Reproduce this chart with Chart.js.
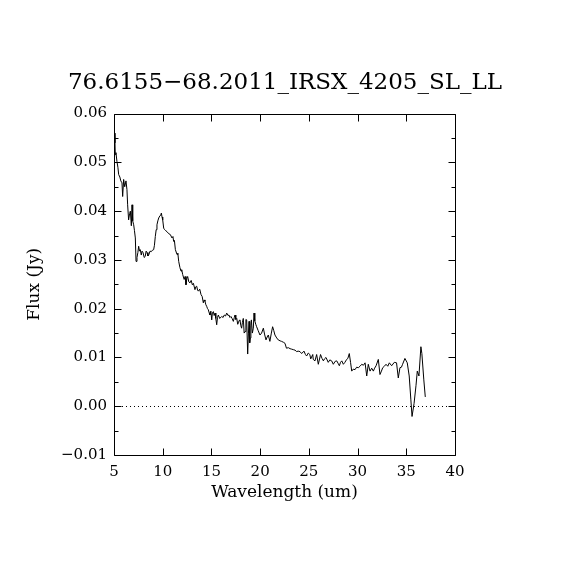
<!DOCTYPE html>
<html>
<head>
<meta charset="utf-8">
<script src="https://cdn.jsdelivr.net/npm/chart.js@4/dist/chart.umd.min.js"></script>
<style>
html,body{margin:0;padding:0;background:#fff;}
#wrap{width:570px;height:570px;}
</style>
</head>
<body>
<div id="wrap"><canvas id="c" width="570" height="570"></canvas></div>
<script>
const chartTitle = "76.6155\u221268.2011_IRSX_4205_SL_LL";
const xTitle = "Wavelength (um)";
const yTitle = "Flux (Jy)";
const xRange = [5, 40];
const yRange = [-0.01, 0.06];
const xTickStep = 5;
const yTickStep = 0.01;
const yMinorStep = 0.005;

const wavelength = [
5.05,5.10,5.13,5.20,5.30,5.40,5.48,5.60,5.70,5.82,5.89,5.99,6.10,6.23,6.33,6.40,6.50,6.60,6.68,6.78,
6.85,6.92,7.02,7.10,7.19,7.26,7.36,7.45,7.53,7.62,7.70,7.80,7.88,7.98,8.10,8.20,8.30,8.39,8.48,8.56,
8.70,8.83,8.95,9.07,9.15,9.24,9.33,9.41,9.50,9.59,9.70,9.80,9.86,9.93,10.0,10.1,10.2,10.3,10.44,10.6,
10.78,10.95,11.05,11.12,11.2,11.3,11.47,11.55,11.64,11.77,11.88,11.95,12.05,12.2,12.3,12.39,12.48,12.56,12.68,12.8,
12.92,13.04,13.15,13.31,13.4,13.49,13.58,13.66,13.8,13.93,14.05,14.17,14.25,14.34,14.43,14.51,14.6,14.68,14.76,14.85,
14.94,15.03,15.1,15.2,15.28,15.37,15.45,15.54,15.62,15.71,15.85,16.05,16.2,16.32,16.45,16.57,16.7,16.8,16.9,17.0,
17.12,17.25,17.35,17.42,17.5,17.6,17.7,17.76,17.85,17.93,18.02,18.1,18.18,18.27,18.36,18.45,18.54,18.62,18.72,18.8,
18.86,18.93,18.99,19.05,19.1,19.2,19.3,19.37,19.45,19.55,19.64,19.8,19.98,20.15,20.33,20.45,20.6,20.72,20.84,21.0,
21.15,21.28,21.4,21.52,21.7,21.86,22.05,22.2,22.4,22.55,22.7,22.9,23.07,23.24,23.4,23.58,23.75,23.9,24.09,24.26,
24.5,24.65,24.77,24.94,25.1,25.19,25.4,25.45,25.63,25.8,25.97,26.2,26.35,26.49,26.6,26.76,26.99,27.15,27.34,27.51,
27.7,27.86,28.0,28.13,28.25,28.38,28.54,28.7,28.88,29.0,29.15,29.28,29.4,29.55,29.74,29.9,30.08,30.25,30.43,30.6,
30.77,30.94,31.1,31.28,31.45,31.62,31.75,31.9,32.13,32.3,32.45,32.58,32.75,32.92,33.1,33.26,33.5,33.77,34.0,34.18,
34.35,34.5,34.62,34.86,35.1,35.3,35.47,35.59,35.8,36.0,36.13,36.3,36.5,36.6,36.8,36.95
];
const flux = [
0.0560,0.0540,0.0516,0.0520,0.0502,0.0490,0.0475,0.0470,0.0462,0.0458,0.0430,0.0465,0.0450,0.0462,0.0444,0.0413,0.0382,0.0395,0.0400,0.0370,
0.0413,0.0380,0.0372,0.0360,0.0345,0.0297,0.0305,0.0315,0.0328,0.0318,0.0321,0.0310,0.0318,0.0315,0.0305,0.0307,0.0318,0.0315,0.0308,0.0310,
0.0318,0.0317,0.0320,0.0321,0.0330,0.0348,0.0362,0.0372,0.0380,0.0386,0.0390,0.0392,0.0396,0.0388,0.0382,0.0365,0.0362,0.0360,0.0358,0.0354,
0.0352,0.0345,0.0348,0.0338,0.0340,0.0321,0.0311,0.0314,0.0297,0.0284,0.0277,0.0280,0.0270,0.0260,0.0266,0.0249,0.0262,0.0266,0.0255,0.0253,
0.0258,0.0249,0.0252,0.0239,0.0245,0.0246,0.0238,0.0236,0.0240,0.0229,0.0225,0.0212,0.0218,0.0215,0.0208,0.0205,0.0200,0.0198,0.0192,0.0187,
0.0195,0.0177,0.0192,0.0194,0.0186,0.0191,0.0180,0.0167,0.0182,0.0187,0.0180,0.0184,0.0182,0.0187,0.0185,0.0191,0.0186,0.0187,0.0182,0.0184,
0.0180,0.0174,0.0182,0.0187,0.0178,0.0180,0.0168,0.0171,0.0176,0.0177,0.0165,0.0160,0.0172,0.0180,0.0150,0.0153,0.0178,0.0177,0.0107,0.0150,
0.0174,0.0130,0.0140,0.0165,0.0177,0.0150,0.0160,0.0191,0.0175,0.0168,0.0163,0.0155,0.0146,0.0150,0.0160,0.0148,0.0136,0.0142,0.0146,0.0133,
0.0150,0.0163,0.0155,0.0146,0.0140,0.0136,0.0134,0.0133,0.0131,0.0129,0.0119,0.0120,0.0118,0.0117,0.0116,0.0115,0.0112,0.0113,0.0112,0.0108,
0.0113,0.0106,0.0103,0.0109,0.0106,0.0097,0.0106,0.0096,0.0093,0.0106,0.0086,0.0106,0.0098,0.0093,0.0097,0.0100,0.0090,0.0095,0.0093,0.0086,
0.0092,0.0093,0.0088,0.0083,0.0090,0.0093,0.0086,0.0090,0.0096,0.0098,0.0108,0.0090,0.0072,0.0076,0.0075,0.0080,0.0079,0.0082,0.0086,0.0084,
0.0089,0.0062,0.0086,0.0072,0.0078,0.0072,0.0078,0.0083,0.0096,0.0065,0.0072,0.0079,0.0082,0.0086,0.0082,0.0089,0.0083,0.0090,0.0089,0.0058,
0.0079,0.0080,0.0086,0.0098,0.0089,0.0062,0.0013,-0.0021,0.0006,0.0043,0.0072,0.0062,0.0122,0.0108,0.0054,0.0019
];

const points = wavelength.map((w, i) => ({x: w, y: flux[i]}));
const FONT = "'DejaVu Serif', 'Liberation Serif', serif";

function fmtY(v) {
  const s = Math.abs(v) < 1e-9 ? "0.00" : v.toFixed(2);
  return s.replace("-", "\u2212");
}

const framePlugin = {
  id: 'frame',
  beforeDatasetsDraw(chart) {
    const {ctx, chartArea: a, scales: {y}} = chart;
    const py = Math.round(y.getPixelForValue(0)) + 0.5;
    ctx.save();
    ctx.strokeStyle = '#000';
    ctx.lineWidth = 1;
    ctx.setLineDash([1, 3]);
    ctx.beginPath();
    ctx.moveTo(a.left, py);
    ctx.lineTo(a.right, py);
    ctx.stroke();
    ctx.restore();
  },
  afterDraw(chart) {
    const {ctx, chartArea: a, scales: {x, y}} = chart;
    ctx.save();
    ctx.strokeStyle = '#000';
    ctx.lineWidth = 1;
    ctx.setLineDash([]);
    const L = Math.round(a.left) + 0.5, R = Math.round(a.right) + 0.5;
    const T = Math.round(a.top) + 0.5, B = Math.round(a.bottom) + 0.5;
    ctx.beginPath();
    ctx.rect(L, T, R - L, B - T);
    ctx.stroke();
    ctx.beginPath();
    x.ticks.forEach(t => {
      const px = Math.round(x.getPixelForValue(t.value)) + 0.5;
      ctx.moveTo(px, B); ctx.lineTo(px, B - 7);
      ctx.moveTo(px, T); ctx.lineTo(px, T + 7);
    });
    const n = Math.round((yRange[1] - yRange[0]) / yMinorStep);
    for (let i = 0; i <= n; i++) {
      const v = yRange[0] + i * yMinorStep;
      const len = (i % 2 === 0) ? 7 : 4;
      const py = Math.round(y.getPixelForValue(v)) + 0.5;
      ctx.moveTo(L, py); ctx.lineTo(L + len, py);
      ctx.moveTo(R, py); ctx.lineTo(R - len, py);
    }
    ctx.stroke();
    ctx.restore();
  }
};

new Chart(document.getElementById('c'), {
  type: 'line',
  data: {
    datasets: [{
      data: points,
      borderColor: '#000',
      borderWidth: 1,
      pointRadius: 0,
      tension: 0,
      fill: false
    }]
  },
  options: {
    responsive: false,
    animation: false,
    devicePixelRatio: 1,
    layout: {padding: {left: 0, right: 0, top: 0, bottom: 55}},
    plugins: {
      legend: {display: false},
      tooltip: {enabled: false},
      title: {
        display: true,
        text: chartTitle,
        color: '#000',
        font: {family: FONT, size: 23, weight: 'normal'},
        padding: {top: 69, bottom: 17}
      }
    },
    scales: {
      x: {
        type: 'linear',
        min: xRange[0], max: xRange[1],
        grid: {display: false, drawTicks: false},
        border: {display: false},
        ticks: {stepSize: xTickStep, color: '#000', padding: 8, maxRotation: 0,
                font: {family: FONT, size: 15}},
        title: {display: true, text: xTitle, color: '#000',
                font: {family: FONT, size: 17}, padding: {top: 0, bottom: 12}},
        afterFit(s) { s.height = 60; }
      },
      y: {
        type: 'linear',
        min: yRange[0], max: yRange[1],
        grid: {display: false, drawTicks: false},
        border: {display: false},
        ticks: {stepSize: yTickStep, color: '#000', padding: 7,
                font: {family: FONT, size: 15},
                callback: v => fmtY(v)},
        title: {display: true, text: yTitle, color: '#000',
                font: {family: FONT, size: 17}, padding: {top: 24, bottom: 0}},
        afterFit(s) { s.width = 114; }
      },
      yRight: {
        type: 'linear',
        position: 'right',
        min: yRange[0], max: yRange[1],
        grid: {display: false, drawTicks: false},
        border: {display: false},
        ticks: {display: false},
        afterFit(s) { s.width = 115; }
      }
    }
  },
  plugins: [framePlugin]
});
</script>
</body>
</html>
